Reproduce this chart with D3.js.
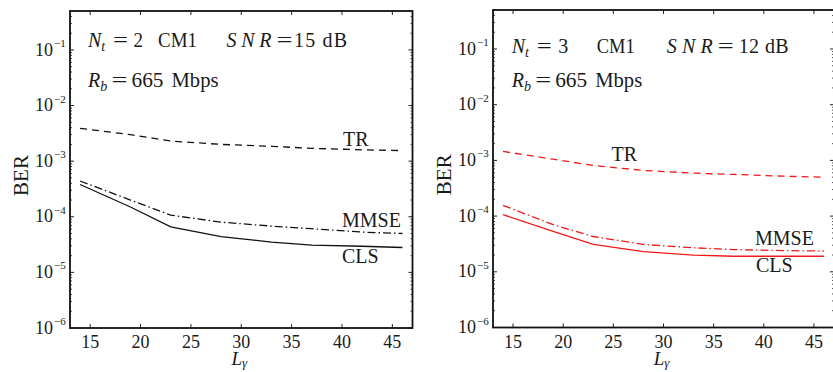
<!DOCTYPE html>
<html>
<head>
<meta charset="utf-8">
<script src="https://cdn.jsdelivr.net/npm/d3@7"></script>
<style>
body{margin:0;background:#fff;}
svg{display:block;}
text{font-family:"Liberation Serif","DejaVu Serif",serif;fill:#1a1a1a;}
</style>
</head>
<body>
<svg id="chart" width="833" height="372"></svg>
<script>
// L_gamma values (x axis)
const Lgamma = [14, 19, 23, 28, 33, 37, 42, 46];
const xTicks = [15, 20, 25, 30, 35, 40, 45];
const yTickExp = [-6, -5, -4, -3, -2, -1];

// left panel, Nt = 2, SNR = 15 dB
const tr2   = [3.9e-3, 3.0e-3, 2.3e-3, 2.0e-3, 1.85e-3, 1.7e-3, 1.6e-3, 1.55e-3];
const mmse2 = [4.4e-4, 2.0e-4, 1.07e-4, 8.0e-5, 6.8e-5, 6.1e-5, 5.3e-5, 5.0e-5];
const cls2  = [3.8e-4, 1.5e-4, 6.6e-5, 4.4e-5, 3.5e-5, 3.1e-5, 2.95e-5, 2.8e-5];

// right panel, Nt = 3, SNR = 12 dB
const tr3   = [1.45e-3, 1.05e-3, 8.1e-4, 6.6e-4, 5.9e-4, 5.6e-4, 5.2e-4, 5.0e-4];
const mmse3 = [1.56e-4, 7.0e-5, 4.3e-5, 3.1e-5, 2.7e-5, 2.5e-5, 2.4e-5, 2.36e-5];
const cls3  = [1.06e-4, 5.3e-5, 3.1e-5, 2.3e-5, 2.0e-5, 1.9e-5, 1.9e-5, 1.9e-5];

const svg = d3.select("#chart");

// write a row of math-ish text pieces at given x offsets
function mathRow(g, x0, y, pieces){
	pieces.forEach(function(p){
		const t = g.append("text").attr("x",x0+p.dx).attr("y",y).style("font-size","20px");
		if (p.w) t.attr("textLength",p.w).attr("lengthAdjust",p.sp ? "spacing" : "spacingAndGlyphs");
		const m = t.append("tspan").text(p.t);
		if (p.it) m.style("font-style","italic");
		if (p.sub) t.append("tspan").attr("dy",4).style("font-size","14px").style("font-style","italic").text(p.sub);
	});
}

function panel(cfg){
	const X = d3.scaleLinear().domain([13,47]).range([cfg.x0,cfg.x1]);
	const Y = d3.scaleLog().domain([1e-6,Math.pow(10,-0.3)]).range([cfg.y1,cfg.y0]);
	const g = svg.append("g");

	// minor + major log ticks, both sides
	const minor = [];
	for (let e=-6; e<0; e++){
		for (let k=2; k<10; k++){
			const v = k*Math.pow(10,e);
			if (v < Y.domain()[1]) minor.push(v);
		}
	}
	g.selectAll(".ymin").data(minor).enter().append("path")
		.attr("d",d=>"M"+cfg.x0+","+Y(d)+"h2M"+cfg.x1+","+Y(d)+"h-2")
		.style("stroke","#222").style("stroke-width",0.8);
	g.selectAll(".ymaj").data(yTickExp).enter().append("path")
		.attr("d",d=>"M"+cfg.x0+","+Y(Math.pow(10,d))+"h4M"+cfg.x1+","+Y(Math.pow(10,d))+"h-4")
		.style("stroke","#222").style("stroke-width",1);
	g.selectAll(".xmaj").data(xTicks).enter().append("path")
		.attr("d",d=>"M"+X(d)+","+cfg.y1+"v-4M"+X(d)+","+cfg.y0+"v4")
		.style("stroke","#222").style("stroke-width",1);

	// y tick labels 10^e
	yTickExp.forEach(function(e){
		const yy = Y(Math.pow(10,e));
		g.append("text").attr("x",cfg.x0-17).attr("y",yy+5.7)
			.attr("text-anchor","end").style("font-size","18px").text("10");
		g.append("text").attr("x",cfg.x0-16).attr("y",yy-3)
			.style("font-size","11px").text("\u2212"+(-e));
	});
	// x tick labels
	g.selectAll(".xl").data(xTicks).enter().append("text")
		.attr("x",d=>X(d)).attr("y",cfg.y1+20)
		.attr("text-anchor","middle").style("font-size","18px")
		.text(d=>d);

	// axis titles
	const xl = g.append("text").attr("x",(cfg.x0+cfg.x1)/2-2).attr("y",cfg.y1+37)
		.attr("text-anchor","middle").style("font-size","19px");
	xl.append("tspan").style("font-style","italic").text("L");
	xl.append("tspan").attr("dy",2).style("font-size","13px").style("font-style","italic").text("\u03b3");
	g.append("text").attr("transform","translate("+(cfg.x0-42)+","+((cfg.y0+cfg.y1)/2+6)+") rotate(-90)")
		.attr("text-anchor","middle").style("font-size","21px").text("BER");

	// curves
	const line = d3.line().x((d,i)=>X(Lgamma[i])).y(d=>Y(d));
	const curves = [
		{v:cfg.tr, dash:"7,5"},
		{v:cfg.mmse, dash:"8,3,1.5,3"},
		{v:cfg.cls, dash:null}
	];
	curves.forEach(function(c){
		g.append("path").attr("d",line(c.v))
			.style("fill","none").style("stroke",cfg.color)
			.style("stroke-width",1.3)
			.style("stroke-dasharray",c.dash);
	});

	// frame
	g.append("rect").attr("x",cfg.x0).attr("y",cfg.y0)
		.attr("width",cfg.x1-cfg.x0).attr("height",cfg.y1-cfg.y0)
		.style("fill","none").style("stroke","#111").style("stroke-width",1.8);

	// annotations
	mathRow(g, cfg.tx, cfg.row1, cfg.row1Pieces);
	mathRow(g, cfg.tx, 87, [
		{t:"R",it:true,sub:"b",dx:0},
		{t:"=",dx:23.5,w:16},
		{t:"665",dx:43.5,w:32},
		{t:"Mbps",dx:83.5,w:47}
	]);

	cfg.labels.forEach(function(l){
		g.append("text").attr("x",l.x).attr("y",l.y).style("font-size","20px").text(l.t);
	});
}

panel({x0:70, x1:412.5, y0:11, y1:328, color:"#111",
	tr:tr2, mmse:mmse2, cls:cls2, tx:88, row1:47,
	row1Pieces:[
		{t:"N",it:true,sub:"t",dx:0},
		{t:"=",dx:25,w:15},
		{t:"2",dx:45.5,w:9.5},
		{t:"CM1",dx:70,w:39},
		{t:"SNR",it:true,dx:138.5,w:45,sp:true},
		{t:"=",dx:188.5,w:16},
		{t:"15 dB",dx:206,w:53,sp:true}
	],
	labels:[{t:"TR",x:343,y:146},{t:"MMSE",x:342,y:226.5},{t:"CLS",x:342,y:263}]});

panel({x0:493, x1:834, y0:10, y1:327.5, color:"#f21818",
	tr:tr3, mmse:mmse3, cls:cls3, tx:511.7, row1:53,
	row1Pieces:[
		{t:"N",it:true,sub:"t",dx:0},
		{t:"=",dx:25,w:15},
		{t:"3",dx:46.5,w:10},
		{t:"CM1",dx:85,w:38},
		{t:"SNR",it:true,dx:155,w:46,sp:true},
		{t:"=",dx:206,w:16},
		{t:"12 dB",dx:227,w:50,sp:true}
	],
	labels:[{t:"TR",x:611.5,y:161},{t:"MMSE",x:755,y:245},{t:"CLS",x:756,y:272}]});
</script>
</body>
</html>
